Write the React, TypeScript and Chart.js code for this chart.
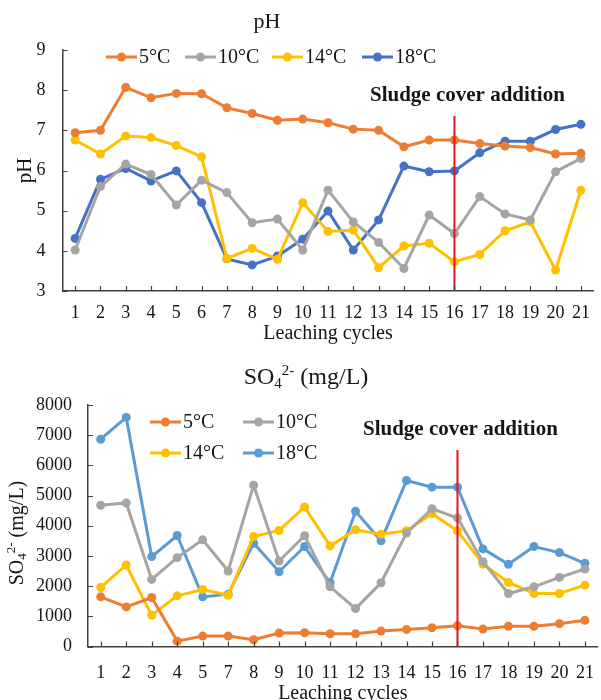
import React, { useEffect, useRef } from 'react';
import { Chart, registerables } from 'chart.js';

Chart.register(...registerables);

const FONT = "'Liberation Serif', 'Times New Roman', serif";
const AXIS = '#404040';
const TEXT = '#151515';

const C5 = '#ED7D31';
const C10 = '#A5A5A5';
const C14 = '#FFC000';
const C18_TOP = '#4472C4';
const C18_BOTTOM = '#5B9BD5';
const MARK_RED = '#E3141B';

// ---------- pH chart data ----------
const phCycles = ['1', '2', '3', '4', '5', '6', '7', '8', '9', '10', '11', '12', '13', '14', '15', '16', '17', '18', '19', '20', '21'];
const ph5C = [6.94, 7.0, 8.07, 7.81, 7.92, 7.91, 7.56, 7.42, 7.25, 7.28, 7.19, 7.03, 7.0, 6.59, 6.76, 6.76, 6.67, 6.61, 6.57, 6.41, 6.43];
const ph10C = [4.02, 5.6, 6.16, 5.9, 5.14, 5.76, 5.45, 4.7, 4.79, 4.02, 5.51, 4.72, 4.21, 3.56, 4.89, 4.43, 5.35, 4.92, 4.77, 5.97, 6.3];
const ph14C = [6.76, 6.41, 6.86, 6.82, 6.62, 6.34, 3.81, 4.06, 3.79, 5.2, 4.48, 4.52, 3.58, 4.12, 4.19, 3.73, 3.91, 4.5, 4.72, 3.52, 5.51];
const ph18C = [4.31, 5.78, 6.05, 5.74, 5.99, 5.2, 3.8, 3.65, 3.87, 4.29, 4.99, 4.02, 4.77, 6.11, 5.97, 5.99, 6.44, 6.73, 6.73, 7.02, 7.15];

// ---------- SO4 chart data ----------
const so4Cycles = ['1', '2', '3', '4', '5', '7', '8', '9', '10', '11', '12', '13', '14', '15', '16', '17', '18', '19', '20', '21'];
const so4_5C = [1644, 1311, 1622, 178, 344, 344, 222, 444, 456, 422, 422, 511, 567, 622, 689, 578, 667, 667, 756, 867];
const so4_10C = [4678, 4756, 2222, 2944, 3533, 2500, 5344, 2833, 3667, 1978, 1256, 2111, 3756, 4567, 4256, 2811, 1756, 1978, 2289, 2567];
const so4_14C = [1956, 2700, 1033, 1678, 1889, 1700, 3644, 3844, 4622, 3333, 3867, 3722, 3833, 4400, 3833, 2733, 2122, 1756, 1756, 2033];
const so4_18C = [6867, 7589, 2978, 3678, 1644, 1733, 3422, 2478, 3311, 2111, 4478, 3500, 5500, 5278, 5278, 3233, 2722, 3311, 3111, 2756];

const seriesLabels = ['5°C', '10°C', '14°C', '18°C'];
const additionCycle = '16';
const additionNote = 'Sludge cover addition';

type Part = { t: string; size: number; dy: number; bold?: boolean };
type LegendPos = { x: number; y: number };

function drawParts(ctx: CanvasRenderingContext2D, parts: Part[], cx: number, cy: number, rotate = false) {
  ctx.save();
  let total = 0;
  const widths = parts.map((p) => {
    ctx.font = `${p.bold ? 'bold ' : ''}${p.size}px ${FONT}`;
    const w = ctx.measureText(p.t).width;
    total += w;
    return w;
  });
  ctx.translate(cx, cy);
  if (rotate) ctx.rotate(-Math.PI / 2);
  ctx.fillStyle = TEXT;
  ctx.textBaseline = 'middle';
  ctx.textAlign = 'left';
  let x = -total / 2;
  parts.forEach((p, i) => {
    ctx.font = `${p.bold ? 'bold ' : ''}${p.size}px ${FONT}`;
    ctx.fillText(p.t, x, p.dy);
    x += widths[i];
  });
  ctx.restore();
}

function overlay(o: {
  title: { parts: Part[]; x: number; y: number };
  yTitle?: { parts: Part[]; x: number; y: number };
  legend: LegendPos[];
  colors: string[];
  note: { x: number; y: number; size: number };
  lineTop: number;
}) {
  return {
    id: 'overlay',
    afterDatasetsDraw(chart: any) {
      const ctx: CanvasRenderingContext2D = chart.ctx;
      const xs = chart.scales.x;
      const ys = chart.scales.y;
      const idx = chart.data.labels.indexOf(additionCycle);
      const px = xs.getPixelForValue(idx);
      ctx.save();
      ctx.strokeStyle = MARK_RED;
      ctx.lineWidth = 2;
      ctx.beginPath();
      ctx.moveTo(px, o.lineTop);
      ctx.lineTo(px, ys.bottom);
      ctx.stroke();
      ctx.restore();
    },
    afterDraw(chart: any) {
      const ctx: CanvasRenderingContext2D = chart.ctx;
      const xs = chart.scales.x;
      const ys = chart.scales.y;
      // inward tick marks
      ctx.save();
      ctx.strokeStyle = AXIS;
      ctx.lineWidth = 1.2;
      ctx.beginPath();
      xs.ticks.forEach((_: any, i: number) => {
        const p = Math.round(xs.getPixelForTick(i)) + 0.5;
        ctx.moveTo(p, ys.bottom);
        ctx.lineTo(p, ys.bottom - 5);
      });
      ys.ticks.forEach((_: any, i: number) => {
        const p = Math.round(ys.getPixelForTick(i)) + 0.5;
        ctx.moveTo(xs.left, p);
        ctx.lineTo(xs.left + 5, p);
      });
      ctx.stroke();
      ctx.restore();

      // title
      drawParts(ctx, o.title.parts, o.title.x, o.title.y);
      if (o.yTitle) drawParts(ctx, o.yTitle.parts, o.yTitle.x, o.yTitle.y, true);

      // legend
      ctx.save();
      chart.data.datasets.forEach((ds: any, i: number) => {
        const pos = o.legend[i];
        const color = o.colors[i];
        ctx.strokeStyle = color;
        ctx.lineWidth = 3;
        ctx.beginPath();
        ctx.moveTo(pos.x, pos.y);
        ctx.lineTo(pos.x + 31, pos.y);
        ctx.stroke();
        ctx.fillStyle = color;
        ctx.beginPath();
        ctx.arc(pos.x + 15.5, pos.y, 4.5, 0, Math.PI * 2);
        ctx.fill();
        ctx.fillStyle = TEXT;
        ctx.font = `20px ${FONT}`;
        ctx.textBaseline = 'middle';
        ctx.textAlign = 'left';
        ctx.fillText(ds.label, pos.x + 33, pos.y + 1);
      });
      ctx.restore();

      // note
      ctx.save();
      ctx.fillStyle = TEXT;
      ctx.font = `bold ${o.note.size}px ${FONT}`;
      ctx.textBaseline = 'middle';
      ctx.textAlign = 'left';
      ctx.fillText(additionNote, o.note.x, o.note.y);
      ctx.restore();
    },
  };
}

function lineDs(label: string, data: number[], color: string) {
  return {
    label,
    data,
    borderColor: color,
    backgroundColor: color,
    pointBackgroundColor: color,
    pointBorderColor: color,
    borderWidth: 3,
    pointRadius: 4.5,
    pointBorderWidth: 0,
    tension: 0,
  };
}

const tickFont = { family: FONT, size: 18 };
const plainNumber = (v: any) => String(v);

function phConfig(): any {
  const colors = [C5, C10, C14, C18_TOP];
  return {
    type: 'line',
    data: {
      labels: phCycles,
      datasets: [
        lineDs(seriesLabels[0], ph5C, C5),
        lineDs(seriesLabels[1], ph10C, C10),
        lineDs(seriesLabels[2], ph14C, C14),
        lineDs(seriesLabels[3], ph18C, C18_TOP),
      ],
    },
    options: {
      responsive: false,
      animation: false,
      events: [],
      layout: { padding: { top: 50, right: 0, left: 0, bottom: 0 } },
      plugins: { legend: { display: false }, title: { display: false }, tooltip: { enabled: false } },
      scales: {
        x: {
          type: 'category',
          offset: true,
          grid: { display: true, drawOnChartArea: false, drawTicks: false },
          border: { color: AXIS, width: 1.5 },
          ticks: { color: TEXT, font: tickFont, padding: 11, maxRotation: 0, autoSkip: false },
          title: { display: true, text: 'Leaching cycles', color: TEXT, font: { family: FONT, size: 20 }, padding: { top: 0, bottom: 4 } },
          afterFit: (s: any) => { s.height = 59; },
        },
        y: {
          min: 3,
          max: 9,
          grid: { display: true, drawOnChartArea: false, drawTicks: false },
          border: { color: AXIS, width: 1.5 },
          ticks: { stepSize: 1, color: TEXT, font: tickFont, padding: 17, callback: plainNumber },
          title: { display: true, text: 'pH', color: TEXT, font: { family: FONT, size: 21 }, padding: { top: 13, bottom: 0 } },
          afterFit: (s: any) => { s.width = 62.5; },
        },
      },
    },
    plugins: [
      overlay({
        title: { parts: [{ t: 'pH', size: 22, dy: 0 }], x: 267, y: 22 },
        legend: [
          { x: 106, y: 57 },
          { x: 185, y: 57 },
          { x: 272, y: 57 },
          { x: 362, y: 57 },
        ],
        colors,
        note: { x: 370, y: 96, size: 21 },
        lineTop: 116,
      }),
    ],
  };
}

function so4Config(): any {
  const colors = [C5, C10, C14, C18_BOTTOM];
  return {
    type: 'line',
    data: {
      labels: so4Cycles,
      datasets: [
        lineDs(seriesLabels[0], so4_5C, C5),
        lineDs(seriesLabels[1], so4_10C, C10),
        lineDs(seriesLabels[2], so4_14C, C14),
        lineDs(seriesLabels[3], so4_18C, C18_BOTTOM),
      ],
    },
    options: {
      responsive: false,
      animation: false,
      events: [],
      layout: { padding: { top: 55, right: 3, left: 0, bottom: 0 } },
      plugins: { legend: { display: false }, title: { display: false }, tooltip: { enabled: false } },
      scales: {
        x: {
          type: 'category',
          offset: true,
          grid: { display: true, drawOnChartArea: false, drawTicks: false },
          border: { color: AXIS, width: 1.5 },
          ticks: { color: TEXT, font: tickFont, padding: 16, maxRotation: 0, autoSkip: false },
          title: { display: true, text: 'Leaching cycles', color: TEXT, font: { family: FONT, size: 20 }, padding: { top: 0, bottom: 9 } },
          afterFit: (s: any) => { s.height = 68.5; },
        },
        y: {
          min: 0,
          max: 8000,
          grid: { display: true, drawOnChartArea: false, drawTicks: false },
          border: { color: AXIS, width: 1.5 },
          ticks: { stepSize: 1000, color: TEXT, font: tickFont, padding: 16, callback: plainNumber },
          afterFit: (s: any) => { s.width = 88; },
        },
      },
    },
    plugins: [
      overlay({
        title: {
          parts: [
            { t: 'SO', size: 24, dy: 0 },
            { t: '4', size: 15, dy: 6 },
            { t: '2-', size: 15, dy: -7 },
            { t: ' (mg/L)', size: 24, dy: 0 },
          ],
          x: 306,
          y: 28,
        },
        yTitle: {
          parts: [
            { t: 'SO', size: 20, dy: 0 },
            { t: '4', size: 13, dy: 5 },
            { t: '2-', size: 13, dy: -6 },
            { t: ' (mg/L)', size: 20, dy: 0 },
          ],
          x: 18,
          y: 183,
        },
        legend: [
          { x: 150, y: 72 },
          { x: 243, y: 72 },
          { x: 150, y: 103 },
          { x: 243, y: 103 },
        ],
        colors,
        note: { x: 363, y: 80, size: 21 },
        lineTop: 100,
      }),
    ],
  };
}

function ChartCanvas({ make, width, height, top }: { make: () => any; width: number; height: number; top: number }) {
  const ref = useRef<HTMLCanvasElement>(null);
  useEffect(() => {
    const chart = new Chart(ref.current as HTMLCanvasElement, make());
    return () => chart.destroy();
  }, []);
  return (
    <canvas
      ref={ref}
      width={width}
      height={height}
      style={{ position: 'absolute', left: 0, top, width, height, display: 'block' }}
    />
  );
}

export default function App() {
  return (
    <div
      style={{
        position: 'absolute',
        left: 0,
        top: 0,
        width: 601,
        height: 700,
        overflow: 'hidden',
        background: '#ffffff',
      }}
    >
      <ChartCanvas make={phConfig} width={601} height={350} top={0} />
      <ChartCanvas make={so4Config} width={610} height={365} top={350} />
    </div>
  );
}
